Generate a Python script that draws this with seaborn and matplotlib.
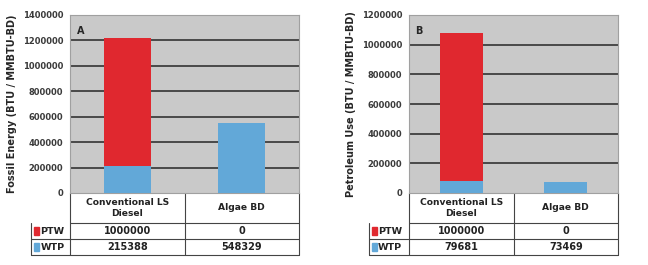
import numpy as np
import pandas as pd
import matplotlib
matplotlib.use('Agg')
import matplotlib.pyplot as plt
import seaborn as sns
from matplotlib.patches import Rectangle

# data
categories = ['Conventional LS\nDiesel', 'Algae BD']
series_names = ['PTW', 'WTP']
fossil_ptw = [1000000, 0]
fossil_wtp = [215388, 548329]
petro_ptw = [1000000, 0]
petro_wtp = [79681, 73469]

RED = '#e0282f'
BLUE = '#62a8d8'
BG = '#c9c9c9'

sns.set_style('white')
plt.rcParams['font.family'] = ['DejaVu Sans']

fig = plt.figure(figsize=(6.48, 2.65), dpi=100)
axA = fig.add_axes([70 / 648, 1 - 193 / 265, 229 / 648, 178 / 265])
axB = fig.add_axes([409 / 648, 1 - 193 / 265, 209 / 648, 178 / 265])


def draw_panel(ax, ptw, wtp, ymax, ylabel, letter, lab_left):
    df = pd.DataFrame({'cat': categories, 'PTW': ptw, 'WTP': wtp})
    df['total'] = df['PTW'] + df['WTP']
    ax.set_facecolor(BG)
    sns.barplot(data=df, x='cat', y='total', color=RED, saturation=1,
                width=0.41, linewidth=0, edgecolor='none', ax=ax, zorder=3)
    sns.barplot(data=df, x='cat', y='WTP', color=BLUE, saturation=1,
                width=0.41, linewidth=0, edgecolor='none', ax=ax, zorder=4)
    ax.set_xlim(-0.5, 1.5)
    ax.set_ylim(0, ymax)
    ticks = np.arange(0, ymax + 1, 200000)
    ax.set_yticks(ticks)
    ax.set_yticklabels([str(int(t)) for t in ticks], fontsize=6, fontweight='bold', color='#3a3a3a')
    for t in ticks[1:-1]:
        ax.axhline(t, color='#262626', lw=1.1, zorder=1)
    ax.set_xticks([])
    ax.set_xlabel('')
    ax.set_ylabel(ylabel, fontsize=7, fontweight='bold', labelpad=4)
    ax.tick_params(axis='y', length=3, width=0.6, color='#888888', pad=2)
    for s in ax.spines.values():
        s.set_color('#a0a0a0')
        s.set_linewidth(0.8)
    ax.text(0.03, 0.94, letter, transform=ax.transAxes, fontsize=7,
            fontweight='bold', ha='left', va='top', zorder=5)

    # data table below the axes
    tr = ax.transAxes
    y0, y1, y2, y3 = 0.0, -30 / 178, -46 / 178, -62 / 178
    kw = dict(transform=tr, clip_on=False, color='#444444', lw=0.8)
    ax.plot([0, 1], [y1, y1], **kw)
    ax.plot([lab_left, 1], [y2, y2], **kw)
    ax.plot([lab_left, 1], [y3, y3], **kw)
    ax.plot([lab_left, lab_left], [y1, y3], **kw)
    ax.plot([0, 0], [y0, y3], **kw)
    ax.plot([0.5, 0.5], [y0, y3], **kw)
    ax.plot([1, 1], [y0, y3], **kw)
    tkw = dict(transform=tr, fontweight='bold', ha='center',
               va='center', clip_on=False, color='#222222')
    for i, c in enumerate(categories):
        ax.text(0.25 + 0.5 * i, (y0 + y1) / 2, c, linespacing=1.3, fontsize=6.6, **tkw)
        ax.text(0.25 + 0.5 * i, (y1 + y2) / 2, str(ptw[i]), fontsize=7, **tkw)
        ax.text(0.25 + 0.5 * i, (y2 + y3) / 2, str(wtp[i]), fontsize=7, **tkw)
    for name, col, (ya, yb) in zip(series_names, [RED, BLUE], [(y1, y2), (y2, y3)]):
        ym = (ya + yb) / 2
        ax.add_patch(Rectangle((lab_left + 0.012, ym - 0.022), 0.024, 0.044,
                               transform=tr, clip_on=False, color=col))
        ax.text(lab_left + 0.042, ym, name, transform=tr, fontsize=6.8,
                fontweight='bold', ha='left', va='center', clip_on=False, color='#222222')


draw_panel(axA, fossil_ptw, fossil_wtp, 1400000, 'Fossil Energy (BTU / MMBTU-BD)', 'A', -39 / 229)
draw_panel(axB, petro_ptw, petro_wtp, 1200000, 'Petroleum Use (BTU / MMBTU-BD)', 'B', -40 / 209)

fig.savefig('out.png', dpi=100, facecolor='white')
